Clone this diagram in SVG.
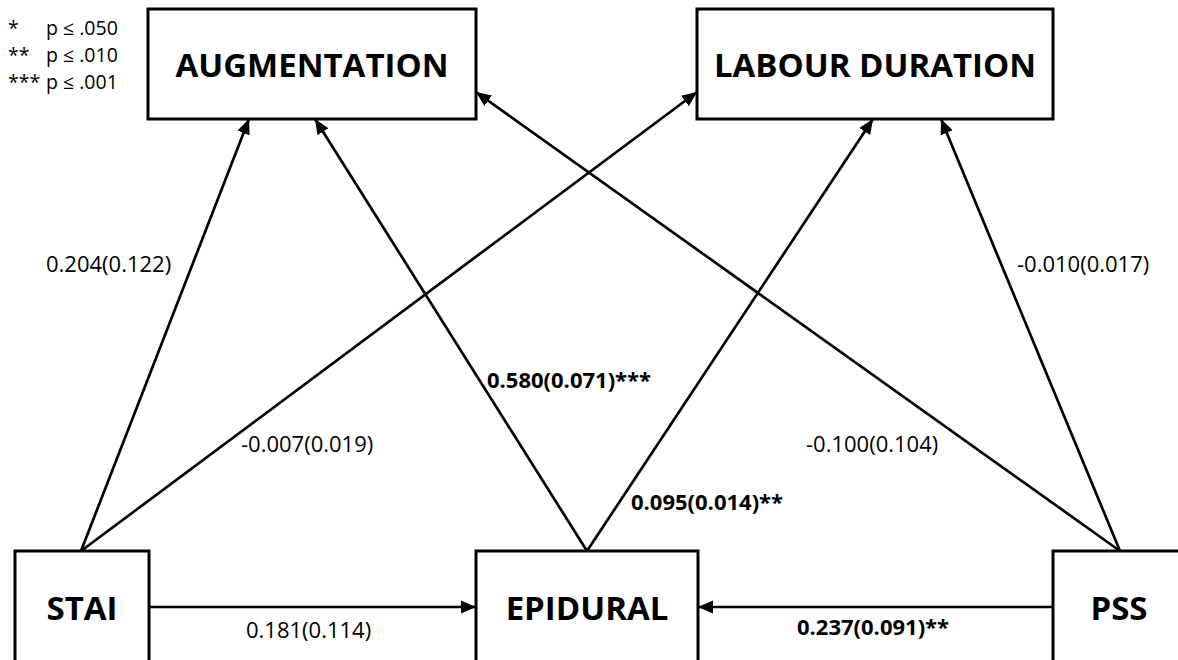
<svg xmlns="http://www.w3.org/2000/svg" width="1178" height="660" viewBox="0 0 1178 660">
<style>
.box{fill:#fff;stroke:#000;stroke-width:3}
.title{font-family:"Open Sans","Liberation Sans",sans-serif;font-weight:bold;font-size:33px;text-anchor:middle;fill:#000}
.lbl{font-family:"Open Sans","Liberation Sans",sans-serif;font-size:22px;fill:#000}
.b{font-weight:bold}
.leg{font-family:"Open Sans","Liberation Sans",sans-serif;font-size:19.5px;fill:#000}
.con line{stroke:#000;stroke-width:2.7;fill:none;marker-end:url(#ah)}
</style>
<defs>
<marker id="ah" markerUnits="userSpaceOnUse" markerWidth="16" markerHeight="14" refX="15" refY="7" orient="auto">
<path d="M0,0.5 L15,7 L0,13.5 Z" fill="#000"/>
</marker>
</defs>
<rect width="1178" height="660" fill="#fff"/>
<g id="legend">
<text class="leg" x="8" y="35">*</text><text class="leg" x="46" y="35">p ≤ .050</text>
<text class="leg" x="8" y="62">**</text><text class="leg" x="46" y="62">p ≤ .010</text>
<text class="leg" x="8" y="89">***</text><text class="leg" x="46" y="89">p ≤ .001</text>
</g>
<g class="con" id="connectors">
<line x1="81" y1="551" x2="249" y2="119"/>
<line x1="81" y1="551" x2="697" y2="92"/>
<line x1="587" y1="551" x2="315" y2="119"/>
<line x1="587" y1="551" x2="873" y2="119"/>
<line x1="1120" y1="551" x2="476" y2="92"/>
<line x1="1120" y1="551" x2="941" y2="119"/>
<line x1="149" y1="607" x2="476" y2="607"/>
<line x1="1053" y1="607" x2="698" y2="607"/>
</g>
<g id="labels">
<text class="lbl" x="46" y="272">0.204(0.122)</text>
<text class="lbl" x="1017" y="272">-0.010(0.017)</text>
<text class="lbl b" x="487" y="388">0.580(0.071)***</text>
<text class="lbl" x="241" y="452">-0.007(0.019)</text>
<text class="lbl" x="806" y="452">-0.100(0.104)</text>
<text class="lbl b" x="631" y="510">0.095(0.014)**</text>
<text class="lbl" x="246" y="638">0.181(0.114)</text>
<text class="lbl b" x="797" y="635">0.237(0.091)**</text>
</g>
<g id="augmentation">
<rect class="box" x="148" y="9" width="328" height="110"/>
<text class="title" x="312" y="77">AUGMENTATION</text>
</g>
<g id="labour-duration">
<rect class="box" x="697" y="9" width="356" height="110"/>
<text class="title" x="875" y="77">LABOUR DURATION</text>
</g>
<g id="stai">
<rect class="box" x="15" y="551" width="134" height="120"/>
<text class="title" x="82" y="620">STAI</text>
</g>
<g id="epidural">
<rect class="box" x="476" y="551" width="222" height="120"/>
<text class="title" x="587" y="620">EPIDURAL</text>
</g>
<g id="pss">
<rect class="box" x="1053" y="551" width="135" height="120"/>
<text class="title" x="1119" y="620">PSS</text>
</g>
</svg>
